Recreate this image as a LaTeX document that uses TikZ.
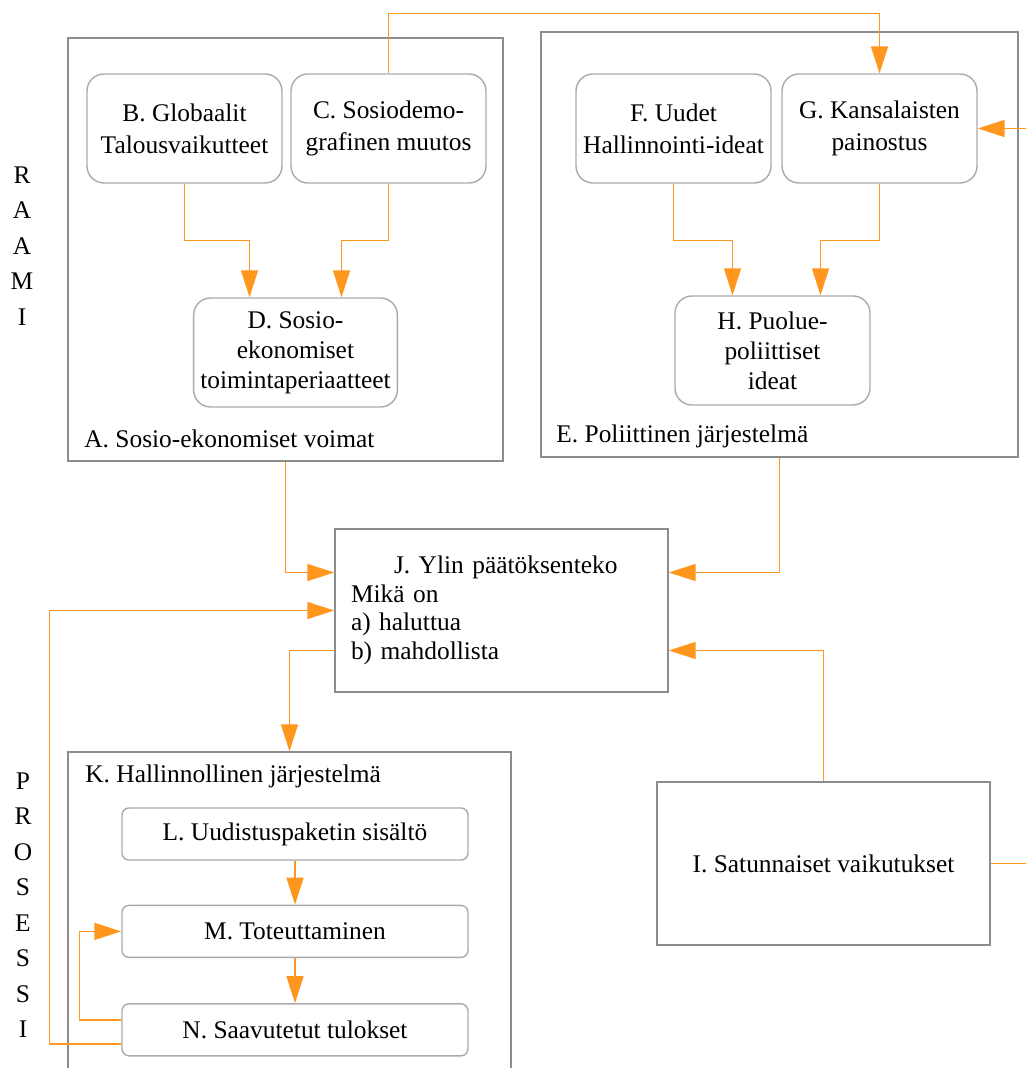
\documentclass[tikz,border=0pt]{standalone}
\usepackage{fontspec}
\setmainfont{Liberation Serif}
\usepackage{tikz}
\usetikzlibrary{arrows.meta,positioning,calc}
\definecolor{flowOrange}{RGB}{255,150,30}
\definecolor{frameGray}{RGB}{140,140,140}
\definecolor{boxGray}{RGB}{170,170,170}

\begin{document}
\begin{tikzpicture}[
    x=0.5pt, y=-0.5pt,
    font=\fontsize{12.7}{14.3}\selectfont,
    frame/.style={draw=frameGray, line width=0.7pt, inner sep=0pt, minimum width=#1},
    roundbox/.style={draw=boxGray, line width=0.7pt, rounded corners=8.5pt, align=center, minimum width=97.5pt, minimum height=54.5pt, font=\fontsize{12.7}{15}\selectfont},
    stagebox/.style={draw=boxGray, line width=0.7pt, rounded corners=3.5pt, minimum width=173pt, minimum height=26pt},
    plainbox/.style={draw=frameGray, line width=0.7pt, minimum width=166.5pt, minimum height=81.5pt},
    frameLabel/.style={anchor=base west, inner sep=0pt},
    letters/.style={align=center, inner sep=0pt, font=\fontsize{12.7}{17.75}\selectfont},
    flow/.style={draw=flowOrange, line width=0.75pt},
    arr/.style={flow, -{Triangle[length=13.5pt,width=8.5pt]}}
]
\useasboundingbox (0,0) rectangle (1026,1068);
\clip (0,0) rectangle (1026,1068);

% frames
\node[frame=217.5pt, minimum height=211.5pt] (A) at (285.5,249.5) {};
\node[frame=238.5pt, minimum height=212.5pt] (E) at (779.5,244.5) {};
\node[frame=221.5pt, minimum height=174pt] (K) at (289.5,926) {};
\node[frameLabel] (Alabel) at (84,448) {A. Sosio-ekonomiset voimat};
\node[frameLabel] (Elabel) at (556,443) {E. Poliittinen järjestelmä};
\node[frameLabel] (Klabel) at (85,782) {K. Hallinnollinen järjestelmä};

\node[letters] (raami) at (22,246) {R\\A\\A\\M\\I};
\node[letters] (prosessi) at (23,905) {P\\R\\O\\S\\E\\S\\S\\I};

% boxes
\node[roundbox] (B) at (184.5,128.5) {B. Globaalit\\[1pt]Talousvaikutteet};
\node[roundbox] (C) at (388.5,128.5) {C. Sosiodemo-\\[1pt]grafinen muutos};
\node[roundbox] (D) at (295.5,352.5) {D. Sosio-\\ekonomiset\\toimintaperiaatteet};
\node[roundbox] (F) at (673.5,128.5) {F. Uudet\\[1pt]Hallinnointi-ideat};
\node[roundbox] (G) at (879.5,128.5) {G. Kansalaisten\\[1pt]painostus};
\node[roundbox] (H) at (772.5,350.5) {H. Puolue-\\poliittiset\\ideat};

\node[plainbox, text width=150.5pt, inner xsep=8pt, align=left] (J) at (501.5,610.5)
    {\hspace*{21.5pt}J. Ylin päätöksenteko\\Mikä on\\a) haluttua\\b) mahdollista};
\node[plainbox] (I) at (823.5,863.5) {I. Satunnaiset vaikutukset};

\node[stagebox] (L) at (295,834) {L. Uudistuspaketin sisältö};
\node[stagebox, below=22pt of L] (M) {M. Toteuttaminen};
\node[stagebox, below=22.5pt of M] (N) {N. Saavutetut tulokset};

\coordinate (rightIn) at (1030,128.5);
\coordinate (rightOut) at (1030,863.5);

% connectors
\draw[arr] (C.north) -- ++(0,-60) -| (G.north);
\draw[arr] (rightIn) -- (G.east);
\draw[arr] (B.south) -- ++(0,57) -| ([xshift=-23pt]D.north);
\draw[arr] (C.south) -- ++(0,57) -| ([xshift=23pt]D.north);
\draw[arr] (F.south) -- ++(0,57) -| ([xshift=-20pt]H.north);
\draw[arr] (G.south) -- ++(0,57) -| ([xshift=24pt]H.north);
\draw[arr] (A.south) |- ([yshift=19pt]J.west);
\draw[arr] (E.south) |- ([yshift=19pt]J.east);
\draw[arr] ([yshift=-20pt]J.west) -| (K.north);
\draw[arr] (I.north) |- ([yshift=-20pt]J.east);
\draw[flow] (I.east) -- (rightOut);
\draw[arr] (L) -- (M);
\draw[arr] (M) -- (N);
\draw[arr] ([yshift=5pt]N.west) -- ++(-42,0) |- (M.west);
\draw[arr] ([yshift=-7pt]N.west) -- ++(-72,0) |- (J.west);
\end{tikzpicture}
\end{document}
